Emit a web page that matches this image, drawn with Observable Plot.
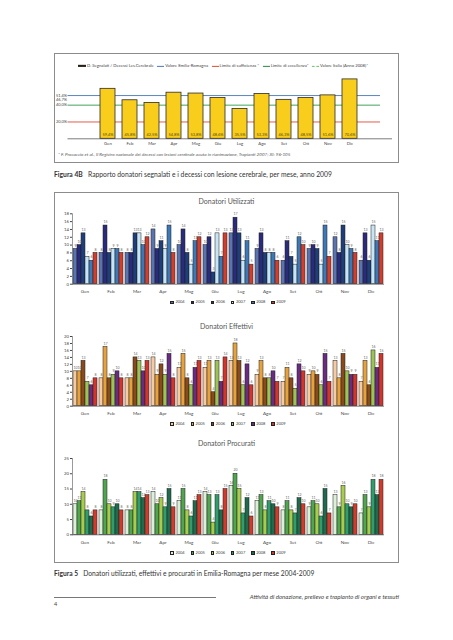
<!DOCTYPE html>
<html><head><meta charset="utf-8">
<script src="https://cdn.jsdelivr.net/npm/d3@7"></script>
<script src="https://cdn.jsdelivr.net/npm/@observablehq/plot@0.6"></script>
<style>
body{margin:0;background:#fff;}
#page{position:relative;width:453px;height:640px;overflow:hidden;font-family:Lato,"Open Sans",sans-serif;color:#333;}
.abs{position:absolute;line-height:1;white-space:nowrap;transform:translateY(-50%);}
.box{position:absolute;border:1.5px solid #8c8c8c;box-sizing:border-box;}
.svgwrap{position:absolute;}
.leg{position:absolute;display:flex;align-items:center;transform:translateY(-50%);font-size:4px;color:#444;line-height:1;white-space:nowrap;}
.sw{display:inline-block;width:3.5px;height:3.5px;border:0.6px solid #222;margin-right:1.5px;box-sizing:border-box;}
</style></head>
<body><div id="page"></div>
<script>
const months = ["Gen","Feb","Mar","Apr","Mag","Giu","Lug","Ago","Set","Ott","Nov","Dic"];
const years = ["2004","2005","2006","2007","2008","2009"];
// Figura 4B: rapporto segnalati / decessi (%) 2009
const ratio2009 = [59.4,45.8,42.5,54.8,53.8,48.6,35.5,53.3,46.3,48.5,51.6,70.6];
const refLabels = ["Valore Emilia-Romagna","Valore Italia (Anno 2008)*","Limite di eccellenza*","Limite di sufficienza *"];
const refTicks = [51.4,46.7,40.0,20.0];
const refLineValues = [51.4,40.0,20.0];
// Figura 5: rows = years 2004..2009, columns = months
const utilizzati = [
  [9,8,8,14,10,10,13,9,6,9,12,6],
  [10,15,8,9,14,12,17,13,11,10,8,13],
  [13,8,13,11,8,3,13,8,7,9,15,6],
  [7,9,13,9,5,13,6,8,5,5,10,15],
  [6,9,10,15,11,7,11,8,12,15,9,11],
  [8,8,12,8,12,13,5,6,10,7,8,13]
];
const effettivi = [
  [10,8,8,14,11,11,13,9,7,9,13,7],
  [10,17,8,9,15,13,18,13,11,10,8,13],
  [13,8,14,12,8,4,13,8,8,9,15,6],
  [7,9,13,9,6,13,6,8,5,6,10,16],
  [6,10,10,15,11,7,12,10,12,15,9,11],
  [8,8,13,8,13,14,6,7,10,7,9,15]
];
const procurati = [
  [10,8,8,14,11,14,16,11,8,9,13,7],
  [11,18,8,10,15,13,20,13,11,11,9,13],
  [14,10,14,12,8,4,15,8,8,10,16,9],
  [8,9,14,9,6,13,7,11,7,6,10,18],
  [6,10,12,15,11,8,12,10,12,15,9,13],
  [8,8,13,9,13,15,6,9,10,7,10,18]
];
const colorsUtil = ["#5a74b0","#2b2b7d","#1f3f7b","#c8e5f6","#3b79b9","#d33d2b"];
const colorsEff  = ["#f6cba4","#e8a23c","#8a4a1d","#9cc455","#6a2c82","#d3352b"];
const colorsProc = ["#ddefd8","#4fa64f","#a8cd4c","#2f9d6c","#1e6b4d","#d23b2b"];

const page = document.getElementById("page");
function addText(txt, x, y, css){
  const d = document.createElement("div"); d.className="abs";
  d.style.left = x+"px"; d.style.top = y+"px";
  Object.assign(d.style, css||{});
  d.innerHTML = txt; page.appendChild(d); return d;
}
function addBox(l,t,r,b){
  const d=document.createElement("div"); d.className="box";
  Object.assign(d.style,{left:l+"px",top:t+"px",width:(r-l)+"px",height:(b-t)+"px"});
  page.appendChild(d);
}
function place(svg, x, y){
  const w=document.createElement("div"); w.className="svgwrap";
  w.style.left=x+"px"; w.style.top=y+"px"; w.appendChild(svg); page.appendChild(w);
}
function yearLegend(colors, cx, y){
  const l=document.createElement("div"); l.className="leg";
  years.forEach((yr,i)=>{
    const it=document.createElement("span"); it.style.display="inline-flex"; it.style.alignItems="center";
    it.style.width="20.2px";
    const s=document.createElement("span"); s.className="sw"; s.style.background=colors[i];
    it.appendChild(s); it.appendChild(document.createTextNode(yr)); l.appendChild(it);
  });
  l.style.left=(cx-60.6)+"px"; l.style.top=y+"px"; page.appendChild(l);
}

// ---------- Top box (Figura 4B) ----------
addBox(54,53,399,163);
const topData = months.map((m,i)=>({month:m, value:ratio2009[i]}));
const fmtPct = v => v.toFixed(1).replace(".",",")+"%";
const lineColors = ["#4a78b8","#2e9a48","#e04a35"];
const legendColors = {er:"#4a78b8", suff:"#e04a35", ecc:"#2a8a45", ita:"#66c266"};
const topPlot = Plot.plot({
  width: 345, height: 80, marginLeft: 13.5, marginRight: 7, marginTop: 1, marginBottom: 11.7,
  style:{fontFamily:"Lato, sans-serif", background:"transparent", color:"#444"},
  x:{domain: months, range:[34.3, 314], padding:0.31, label:null},
  y:{domain:[0,80], label:null},
  marks:[
    Plot.ruleY(refLineValues, {y: d=>d, stroke:(d,i)=>lineColors[i], strokeWidth:0.9, insetRight:12}),
    Plot.barY(topData,{x:"month", y:"value", fill:"#f9cd1c", stroke:"#2a2a2a", strokeWidth:0.8}),
    Plot.ruleY([0],{stroke:"#444", strokeWidth:0.7}),
    Plot.text(topData,{x:"month", y:0, text:d=>fmtPct(d.value), dy:-4, fontSize:4, fill:"#5a4a10"}),
    Plot.axisY({ticks:refTicks, tickFormat:fmtPct, tickSize:0, tickPadding:1, fontSize:4, label:null}),
    Plot.axisX({tickSize:0, tickPadding:3, fontSize:4.3, label:null})
  ]
});
place(topPlot, 54, 70);
// top legend
(function(){
  const l=document.createElement("div"); l.className="leg"; l.style.fontSize="4.25px";
  const items=[
    {t:"D. Segnalati / Decessi Les.Cerebrale", type:"bar"},
    {t:refLabels[0], c:legendColors.er},
    {t:refLabels[3], c:legendColors.suff},
    {t:refLabels[2], c:legendColors.ecc},
    {t:refLabels[1], c:legendColors.ita, dash:true}
  ];
  items.forEach(it=>{
    const s=document.createElement("span"); s.style.display="inline-block";
    if(it.type==="bar"){ s.style.width="8px"; s.style.height="2.5px"; s.style.background="#b49a20"; s.style.border="0.6px solid #222"; s.style.boxSizing="border-box"; }
    else { s.style.width="7px"; s.style.height="0"; s.style.borderTop=(it.dash?"0.8px dashed ":"0.8px solid ")+it.c; }
    s.style.marginRight="1px";
    l.appendChild(s);
    const tx=document.createElement("span"); tx.textContent=it.t; tx.style.marginRight="3.5px"; l.appendChild(tx);
  });
  l.style.left="78px"; l.style.top="66px"; page.appendChild(l);
})();
addText("* F. Procaccio et al., <i>Il Registro nazionale dei decessi con lesioni cerebrale acuta in rianimazione</i>, Trapianti 2007; XI: 96-105", 58, 154, {fontSize:"4.6px", fontStyle:"italic", color:"#555"});
addText("<b>Figura 4B</b>&nbsp;&nbsp; Rapporto donatori segnalati e i decessi con lesione cerebrale, per mese, anno 2009", 54, 173.5, {fontSize:"6.75px", color:"#333"});

// ---------- Lower box (Figura 5) ----------
addBox(54,192,399,563);
function grouped(series, colors, ymax, step, height, mt, mb){
  const data=[];
  years.forEach((yr,i)=>months.forEach((m,j)=>data.push({month:m, year:yr, value:series[i][j]})));
  return Plot.plot({
    width:345, height, marginLeft:18, marginRight:16, marginTop:mt, marginBottom:mb,
    style:{fontFamily:"Lato, sans-serif", background:"transparent", color:"#444"},
    fx:{domain:months, padding:0.04, label:null},
    x:{domain:years, padding:0, axis:null},
    y:{domain:[0,ymax], label:null},
    color:{domain:years, range:colors},
    marks:[
      Plot.barY(data,{fx:"month", x:"year", y:"value", fill:"year", stroke:"#1c1c1c", strokeWidth:0.5}),
      Plot.text(data,{fx:"month", x:"year", y:"value", text:"value", dy:-3.5, fontSize:3.5, fill:"#666"}),
      Plot.axisY({ticks:d3.range(0,ymax+0.01,step), tickSize:2, tickPadding:1.5, fontSize:4.3, label:null}),
      Plot.axisFx({anchor:"bottom", tickSize:0, tickPadding:6, fontSize:4.6, label:null}),
      Plot.frame({anchor:"left", facet:"super", stroke:"#555", strokeWidth:0.6}),
      Plot.frame({anchor:"bottom", facet:"super", stroke:"#444", strokeWidth:0.7})
    ]
  });
}
const titleCss = {fontSize:"7px", transform:"translate(-50%,-50%)", color:"#555"};
addText("Donatori Utilizzati", 226.5, 200.7, titleCss);
place(grouped(utilizzati, colorsUtil, 18, 2, 92, 8.3, 13.3), 54, 205);
yearLegend(colorsUtil, 231, 302.3);

addText("Donatori Effettivi", 226.5, 325.5, titleCss);
place(grouped(effettivi, colorsEff, 20, 2, 90, 6, 14.3), 54, 330);
yearLegend(colorsEff, 231, 424);

addText("Donatori Procurati", 226.5, 442.5, titleCss);
place(grouped(procurati, colorsProc, 25, 5, 96, 6, 13.7), 54, 452);
yearLegend(colorsProc, 231, 553);

addText("<b>Figura 5</b>&nbsp;&nbsp; Donatori utilizzati, effettivi e procurati in Emilia-Romagna per mese 2004-2009", 54, 572.5, {fontSize:"6.7px", color:"#333"});

// footer
const rule=document.createElement("div");
Object.assign(rule.style,{position:"absolute",left:"54px",top:"596.5px",width:"162px",height:"1px",background:"#777"});
page.appendChild(rule);
addText("Attività di donazione, prelievo e trapianto di organi e tessuti", 399, 597, {fontSize:"6.1px", fontStyle:"italic", transform:"translate(-100%,-50%)", color:"#444"});
addText("4", 54, 605, {fontSize:"5.5px", color:"#444"});
</script></body></html>
